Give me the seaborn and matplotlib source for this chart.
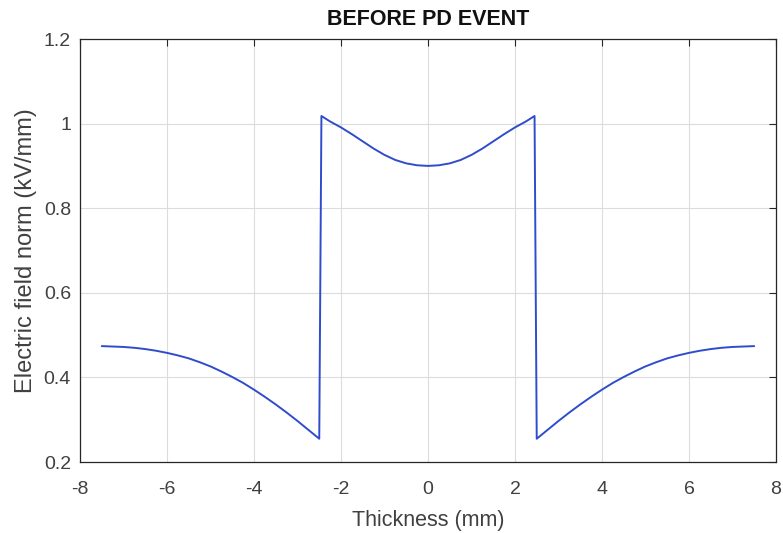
import numpy as np
import pandas as pd
import matplotlib
matplotlib.use("Agg")
import matplotlib.pyplot as plt
import seaborn as sns

# Data
x_left = [-7.5, -7.25, -7.0, -6.75, -6.5, -6.25, -6.0, -5.75, -5.5, -5.25, -5.0,
          -4.75, -4.5, -4.25, -4.0, -3.75, -3.5, -3.25, -3.0, -2.75, -2.5]
y_left = [0.474, 0.473, 0.472, 0.470, 0.467, 0.463, 0.458, 0.452, 0.445, 0.436, 0.426,
          0.414, 0.401, 0.387, 0.371, 0.354, 0.336, 0.317, 0.297, 0.276, 0.255]
x_mid = [-2.45, -2.25, -2.0, -1.75, -1.5, -1.25, -1.0, -0.75, -0.5, -0.25, 0.0,
         0.25, 0.5, 0.75, 1.0, 1.25, 1.5, 1.75, 2.0, 2.25, 2.45]
y_mid = [1.018, 1.005, 0.991, 0.975, 0.958, 0.941, 0.926, 0.914, 0.906, 0.9015, 0.900,
         0.9015, 0.906, 0.914, 0.926, 0.941, 0.958, 0.975, 0.991, 1.005, 1.018]
x_right = [2.5, 2.75, 3.0, 3.25, 3.5, 3.75, 4.0, 4.25, 4.5, 4.75, 5.0,
           5.25, 5.5, 5.75, 6.0, 6.25, 6.5, 6.75, 7.0, 7.25, 7.5]
y_right = [0.255, 0.276, 0.297, 0.317, 0.336, 0.354, 0.371, 0.387, 0.401, 0.414, 0.426,
           0.436, 0.445, 0.452, 0.458, 0.463, 0.467, 0.470, 0.472, 0.473, 0.474]

x_ticks = [-8, -6, -4, -2, 0, 2, 4, 6, 8]
y_ticks = [0.2, 0.4, 0.6, 0.8, 1.0, 1.2]
x_tick_labels = ["-8", "-6", "-4", "-2", "0", "2", "4", "6", "8"]
y_tick_labels = ["0.2", "0.4", "0.6", "0.8", "1", "1.2"]

df = pd.DataFrame({
    "x": x_left + x_mid + x_right,
    "y": y_left + y_mid + y_right,
})

sns.set_style("white")
plt.rcParams["font.family"] = ["Liberation Sans", "DejaVu Sans"]

fig = plt.figure(figsize=(7.83, 5.33), dpi=100)
ax = fig.add_axes([0.1022, 0.1332, 0.8888, 0.7936])

sns.lineplot(data=df, x="x", y="y", sort=False, estimator=None,
             color="#2f4ccc", linewidth=1.4, ax=ax)

ax.set_xlim(-8, 8)
ax.set_ylim(0.2, 1.2)
ax.set_xticks(x_ticks)
ax.set_xticklabels(x_tick_labels)
ax.set_yticks(y_ticks)
ax.set_yticklabels(y_tick_labels)
ax.grid(True, color="#dcdcdc", linewidth=0.8)
ax.set_axisbelow(True)

for s in ax.spines.values():
    s.set_color("#262626")
    s.set_linewidth(0.9)

ax.tick_params(direction="in", length=5, width=0.8, color="#262626",
               top=True, right=True, labelsize=14, labelcolor="#404040")
ax.tick_params(axis="x", pad=14)
ax.tick_params(axis="y", pad=6.5)

ax.set_xlabel("Thickness (mm)", fontsize=15.5, color="#404040", labelpad=8.5)
ax.set_ylabel("Electric field norm (kV/mm)", fontsize=17, color="#404040", labelpad=5)
ax.set_title("BEFORE PD EVENT", fontsize=15.5, fontweight="bold", color="#111111", pad=10)

fig.savefig("out.png", dpi=100)
